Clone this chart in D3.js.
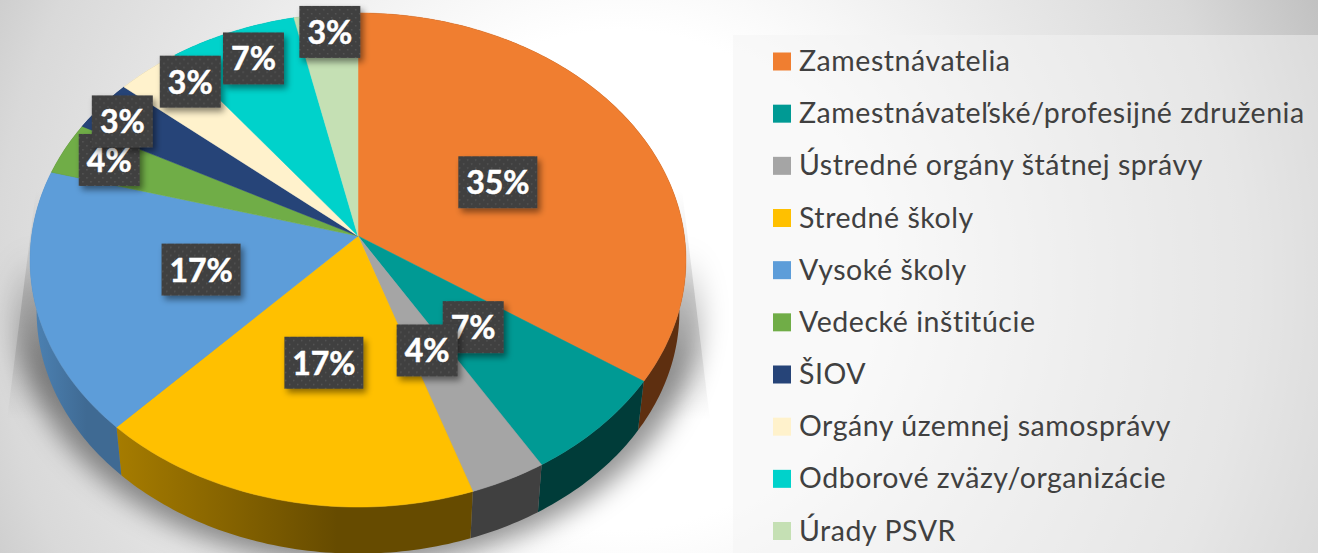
<!DOCTYPE html>
<html>
<head>
<meta charset="utf-8">
<script src="https://cdn.jsdelivr.net/npm/d3@7"></script>
<style>
	html, body { margin: 0; padding: 0; background: #fff; overflow: hidden; }
	svg { display: block; }
</style>
</head>
<body>
<svg></svg>
<script>
// Chart data - the labels are kept apart because the slide rounds them by hand (1 of 29 is both 3% and 4%)
const categories = ['Zamestnávatelia', 'Zamestnávateľské/profesijné združenia', 'Ústredné orgány štátnej správy', 'Stredné školy', 'Vysoké školy', 'Vedecké inštitúcie', 'ŠIOV', 'Orgány územnej samosprávy', 'Odborové zväzy/organizácie', 'Úrady PSVR'];
const counts = [10, 2, 1, 5, 5, 1, 1, 1, 2, 1];
const percentLabels = ['35%', '7%', '4%', '17%', '17%', '4%', '3%', '3%', '7%', '3%'];

const colors = ['#f07e30', '#009a94', '#a5a5a5', '#ffc000', '#5d9dd9', '#70ad47', '#264478', '#fff2cc', '#00d2cb', '#c5e0b4'];
const sideLeft = ['#5e2f10', '#003c39', '#404040', '#a67c00', '#4d83b5', '#44692b', '#172a4a', '#99917a', '#007e7a', '#76866c'];
const sideRight = ['#5e2f10', '#003c39', '#404040', '#664b00', '#3f6a93', '#44692b', '#172a4a', '#99917a', '#007e7a', '#76866c'];

// label spot as a fraction of the way from the apex to the rim, [x, y]
const labelSpot = [[.507, .49], [.477, .477], [.46, .47], [.44, .48], [.486, .5], [.85, .87], [.92, .88], [.8, .93], [.83, .87], [.875, .92]];

const width = 1318;
const height = 553;

const svg = d3.select('svg').attr('width', width).attr('height', height);
const defs = svg.append('defs');

// ------------------------------- Background -------------------------------
const bg = defs.append('radialGradient').attr('id', 'bg')
	.attr('gradientUnits', 'userSpaceOnUse')
	.attr('cx', 620).attr('cy', 280).attr('r', 780);
bg.append('stop').attr('offset', 0).attr('stop-color', '#ffffff');
bg.append('stop').attr('offset', 0.32).attr('stop-color', '#ffffff');
bg.append('stop').attr('offset', 0.6).attr('stop-color', '#e8e8e8');
bg.append('stop').attr('offset', 0.8).attr('stop-color', '#d9d9d9');
bg.append('stop').attr('offset', 1).attr('stop-color', '#bcbcbc');

svg.append('rect').attr('width', width).attr('height', height).attr('fill', 'url(#bg)');

// ------------------------------- Pie geometry -------------------------------
// Circle seen in perspective: the apex is not the middle of the ellipse
const apexX = 358;
const apexY = 236;
const radiusX = 326.4;
const radiusY = 244.7;
const tilt = 0.0972;
const depth = 52;
const bottomScale = 0.98;

function rim(angle, scale = 1, drop = 0, frac = [1, 1]) {
	const u = Math.sin(angle);
	const v = -Math.cos(angle);
	const w = 1 - tilt * v;
	return [
		apexX + frac[0] * scale * radiusX * u / w,
		apexY + drop + frac[1] * scale * radiusY * v / w,
	];
}

function arcPoints(d, scale, drop) {
	const steps = Math.max(4, Math.ceil((d.endAngle - d.startAngle) * 60));
	return d3.range(steps + 1).map((i) => {
		return rim(d.startAngle + (d.endAngle - d.startAngle) * i / steps, scale, drop);
	});
}

const pie = d3.pie().sort(null).value((d) => d);
const slices = pie(counts);
const line = d3.line();

// ------------------------------- Shadow under the pie -------------------------------
// Hard edged wedge on both sides, fading out downwards
const wedgeFade = defs.append('linearGradient').attr('id', 'wedgeFade')
	.attr('gradientUnits', 'userSpaceOnUse')
	.attr('x1', 0).attr('x2', 0).attr('y1', 190).attr('y2', 420);
wedgeFade.append('stop').attr('offset', 0).attr('stop-color', '#000').attr('stop-opacity', 0);
wedgeFade.append('stop').attr('offset', 0.45).attr('stop-color', '#000').attr('stop-opacity', 0.13);
wedgeFade.append('stop').attr('offset', 0.7).attr('stop-color', '#000').attr('stop-opacity', 0.1);
wedgeFade.append('stop').attr('offset', 1).attr('stop-color', '#000').attr('stop-opacity', 0);

svg.append('path')
	.attr('d', line([[36, 190], [682, 190], [710, 420], [7, 420]]) + 'Z')
	.attr('fill', 'url(#wedgeFade)');

// Soft copy of the lower rim
const shadowFade = defs.append('linearGradient').attr('id', 'shadowFade')
	.attr('gradientUnits', 'userSpaceOnUse')
	.attr('x1', 0).attr('x2', 0).attr('y1', 250).attr('y2', 370);
shadowFade.append('stop').attr('offset', 0).attr('stop-color', '#000').attr('stop-opacity', 0);
shadowFade.append('stop').attr('offset', 1).attr('stop-color', '#000').attr('stop-opacity', 0.42);

const blur = defs.append('filter').attr('id', 'blur')
	.attr('x', '-10%').attr('y', '-10%').attr('width', '120%').attr('height', '120%');
blur.append('feGaussianBlur').attr('stdDeviation', 13);

svg.append('path')
	.attr('d', line(d3.range(0, 361, 3).map((deg) => rim(deg * Math.PI / 180, 1.05, depth - 8))) + 'Z')
	.attr('fill', 'url(#shadowFade)')
	.attr('filter', 'url(#blur)');

// ------------------------------- Pie sides, then top face -------------------------------
slices.forEach((d, i) => {
	const grad = defs.append('linearGradient').attr('id', `side${i}`)
		.attr('x1', 0).attr('x2', 1).attr('y1', 0).attr('y2', 0);
	grad.append('stop').attr('offset', 0).attr('stop-color', sideLeft[i]);
	grad.append('stop').attr('offset', 0.62).attr('stop-color', sideRight[i]);
});

svg.append('g').attr('class', 'sides')
	.selectAll('path')
	.data(slices)
	.join('path')
	.attr('d', (d) => line(arcPoints(d, 1, 0).concat(arcPoints(d, bottomScale, depth).reverse())) + 'Z')
	.attr('fill', (d, i) => `url(#side${i})`);

svg.append('g').attr('class', 'faces')
	.selectAll('path')
	.data(slices)
	.join('path')
	.attr('d', (d) => line([[apexX, apexY]].concat(arcPoints(d, 1, 0))) + 'Z')
	.attr('fill', (d, i) => colors[i])
	.attr('stroke', (d, i) => colors[i])
	.attr('stroke-width', 0.5);

// ------------------------------- Percent labels -------------------------------
const dots = defs.append('pattern').attr('id', 'dots')
	.attr('patternUnits', 'userSpaceOnUse')
	.attr('width', 8).attr('height', 8);
dots.append('rect').attr('width', 8).attr('height', 8).attr('fill', '#3f3f3f');
dots.append('rect').attr('x', 1).attr('y', 1).attr('width', 1.5).attr('height', 1.5).attr('fill', '#565656');
dots.append('rect').attr('x', 5).attr('y', 5).attr('width', 1.5).attr('height', 1.5).attr('fill', '#565656');

const boxShadow = defs.append('filter').attr('id', 'boxShadow')
	.attr('x', '-20%').attr('y', '-20%').attr('width', '150%').attr('height', '150%');
boxShadow.append('feDropShadow')
	.attr('dx', 3).attr('dy', 4).attr('stdDeviation', 3)
	.attr('flood-color', '#000').attr('flood-opacity', 0.45);

const labels = svg.append('g').attr('class', 'labels')
	.selectAll('g')
	.data(slices)
	.join('g')
	.attr('transform', (d, i) => {
		const [x, y] = rim((d.startAngle + d.endAngle) / 2, 1, 0, labelSpot[i]);
		return `translate(${x},${y})`;
	});

labels.append('rect')
	.attr('x', (d, i) => percentLabels[i].length > 2 ? -39.5 : -30.5)
	.attr('width', (d, i) => percentLabels[i].length > 2 ? 79 : 61)
	.attr('y', -26)
	.attr('height', 52)
	.attr('fill', 'url(#dots)')
	.attr('filter', 'url(#boxShadow)');

labels.append('text')
	.attr('text-anchor', 'middle')
	.attr('y', 12)
	.attr('font-family', 'Lato, sans-serif')
	.attr('font-weight', 700)
	.attr('font-size', 32)
	.attr('stroke', '#fff')
	.attr('stroke-width', 0.5)
	.attr('fill', '#fff')
	.text((d, i) => percentLabels[i]);

// ------------------------------- Legend -------------------------------
svg.append('rect')
	.attr('x', 733).attr('y', 35)
	.attr('width', width - 733).attr('height', height - 35)
	.attr('fill', '#f3f3f3').attr('fill-opacity', 0.5);

const legendRow = d3.scalePoint().domain(categories).range([61.5, 531]);

const legend = svg.append('g').attr('class', 'legend')
	.selectAll('g')
	.data(categories)
	.join('g')
	.attr('transform', (d) => `translate(0,${legendRow(d)})`);

legend.append('rect')
	.attr('x', 773).attr('y', -9)
	.attr('width', 18).attr('height', 18)
	.attr('fill', (d, i) => colors[i]);

legend.append('text')
	.attr('x', 799).attr('y', 9.5)
	.attr('font-family', 'Lato, sans-serif')
	.attr('font-size', 28.5)
	.attr('letter-spacing', 0.55)
	.attr('fill', '#404040')
	.text((d) => d);
</script>
</body>
</html>
